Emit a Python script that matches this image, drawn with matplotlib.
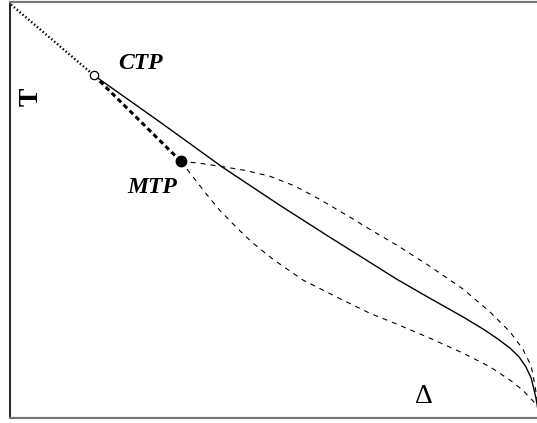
import matplotlib
matplotlib.use('Agg')
import matplotlib.pyplot as plt

# critical / multicritical points (Delta, T)
ctp = (0.159, 0.825)
mtp = (0.324, 0.618)

# dotted line above CTP
dot_d = [0.002, 0.159]
dot_t = [0.995, 0.825]

# solid transition line
solid_d = [0.159, 0.285, 0.404, 0.512, 0.607, 0.670, 0.734, 0.797, 0.860,
           0.898, 0.926, 0.949, 0.966, 0.979, 0.989, 0.994, 0.998, 1.002]
solid_t = [0.825, 0.712, 0.603, 0.512, 0.435, 0.385, 0.334, 0.288, 0.243,
           0.214, 0.190, 0.168, 0.147, 0.123, 0.096, 0.070, 0.048, 0.019]

# upper dashed spinodal
up_d = [0.324, 0.361, 0.398, 0.446, 0.493, 0.541, 0.588, 0.639, 0.683, 0.734,
        0.797, 0.860, 0.911, 0.949, 0.973, 0.989, 0.996, 1.002]
up_t = [0.618, 0.613, 0.606, 0.596, 0.582, 0.558, 0.526, 0.488, 0.454, 0.416,
        0.365, 0.310, 0.255, 0.207, 0.166, 0.125, 0.079, 0.031]

# lower dashed spinodal
lo_d = [0.324, 0.342, 0.370, 0.398, 0.431, 0.461, 0.499, 0.556, 0.620, 0.683,
        0.734, 0.797, 0.860, 0.911, 0.949, 0.973, 0.996, 1.002]
lo_t = [0.618, 0.589, 0.543, 0.500, 0.457, 0.421, 0.382, 0.332, 0.291, 0.252,
        0.226, 0.192, 0.156, 0.123, 0.091, 0.067, 0.036, 0.024]

fig = plt.figure(figsize=(5.37, 4.23), dpi=100)
ax = fig.add_axes([0.0186, 0.0118, 0.9814, 0.9823])

ax.plot(dot_d, dot_t, color='k', lw=1.7, linestyle=(0, (0.6, 1.0)))
ax.plot(solid_d, solid_t, color='k', lw=1.0)
ax.plot([ctp[0], mtp[0]], [ctp[1], mtp[1]], color='k', lw=2.2, linestyle=(0, (1.6, 1.15)))
ax.plot(up_d, up_t, color='k', lw=0.8, linestyle=(0, (4.5, 4.5)))
ax.plot(lo_d, lo_t, color='k', lw=0.8, linestyle=(0, (4.5, 4.5)))

ax.plot(*ctp, 'o', ms=6, mfc='white', mec='k', mew=0.9)
ax.plot(*mtp, 'o', ms=7.5, color='k')

serif = ['Liberation Serif', 'DejaVu Serif']
ax.text(0.247, 0.853, 'CTP', fontsize=17, family=serif, weight='bold', style='italic',
        ha='center', va='center')
ax.text(0.269, 0.555, 'MTP', fontsize=17, family=serif, weight='bold', style='italic',
        ha='center', va='center')
ax.text(0.040, 0.772, 'T', fontsize=20, family=serif, weight='bold', rotation=90,
        ha='center', va='center')
ax.text(0.786, 0.052, 'Δ', fontsize=20, family=serif, ha='center', va='center')

ax.set_xlim(0, 1.0)
ax.set_ylim(0, 1.0)
ax.set_xticks([])
ax.set_yticks([])
ax.spines['right'].set_visible(False)
ax.spines['left'].set_color('k')
ax.spines['left'].set_linewidth(1.2)
for s in ('top', 'bottom'):
    ax.spines[s].set_color('#777777')
    ax.spines[s].set_linewidth(1.6)

fig.savefig('out.png', dpi=100)
